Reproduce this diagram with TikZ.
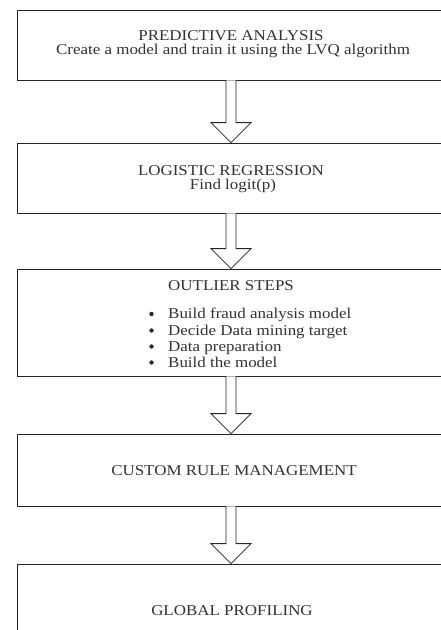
\documentclass[tikz,border=0pt]{standalone}
\usepackage{fontspec}
\setmainfont{Liberation Serif}
\usetikzlibrary{calc}
\newcommand\widetext[1]{\scalebox{1.13}[1]{#1}}
\tikzset{
  box/.style={draw=black!85, line width=0.8pt, minimum width=428pt, inner sep=0pt, fill=white},
  txt/.style={inner sep=0pt, font=\fontsize{15}{17}\selectfont, text=black!80, anchor=base},
  ltxt/.style={txt, anchor=base west},
  dot/.style={circle, fill=black!85, inner sep=0pt, minimum size=4.4pt},
  fatarrow/.style={draw=black!85, line width=0.8pt, fill=white, line join=miter},
}
\newcommand\fatarrow[2]{%
  \draw[fatarrow] ($(#1.south)+(-5,0)$) -- ($(#2.north)+(-5,-20)$) -- ($(#2.north)+(-20,-20)$)
    -- (#2.north) -- ($(#2.north)+(20,-20)$) -- ($(#2.north)+(5,-20)$) -- ($(#1.south)+(5,0)$);}
\begin{document}
\begin{tikzpicture}[x=1pt,y=-1pt]
\useasboundingbox (0,0) rectangle (441,630);
\clip (0,0) rectangle (441,630);
\fill[white] (0,0) rectangle (441,630);
\node[box, minimum height=70pt] (b1) at (231,45) {};
\node[box, minimum height=70pt] (b2) at (231,178) {};
\node[box, minimum height=107pt] (b3) at (231,322.5) {};
\node[box, minimum height=72pt] (b4) at (231,470) {};
\node[box, minimum height=80pt] (b5) at (231,604) {};
\node[txt] (t1a) at (231,40) {\widetext{PREDICTIVE ANALYSIS}};
\node[txt] (t1b) at (233,54) {\widetext{Create a model and train it using the LVQ algorithm}};
\node[txt] (t2a) at (231,175) {\widetext{LOGISTIC REGRESSION}};
\node[txt] (t2b) at (233,189.5) {\widetext{Find logit(p)}};
\node[ltxt] (t3) at (168,290) {\widetext{OUTLIER STEPS}};
\node[ltxt] (i1) at (168,318.5) {\widetext{Build fraud analysis model}};
\node[ltxt] (i2) at (168,335) {\widetext{Decide Data mining target}};
\node[ltxt] (i3) at (168,351) {\widetext{Data preparation}};
\node[ltxt] (i4) at (168,367) {\widetext{Build the model}};
\foreach \n in {i1,i2,i3,i4} \node[dot] at ($(\n.base west)+(-16.5,-4.5)$) {};
\node[txt] (t4) at (234,475) {\widetext{CUSTOM RULE MANAGEMENT}};
\node[txt] (t5) at (232,615) {\widetext{GLOBAL PROFILING}};
\fatarrow{b1}{b2}
\fatarrow{b2}{b3}
\fatarrow{b3}{b4}
\fatarrow{b4}{b5}
\end{tikzpicture}
\end{document}
